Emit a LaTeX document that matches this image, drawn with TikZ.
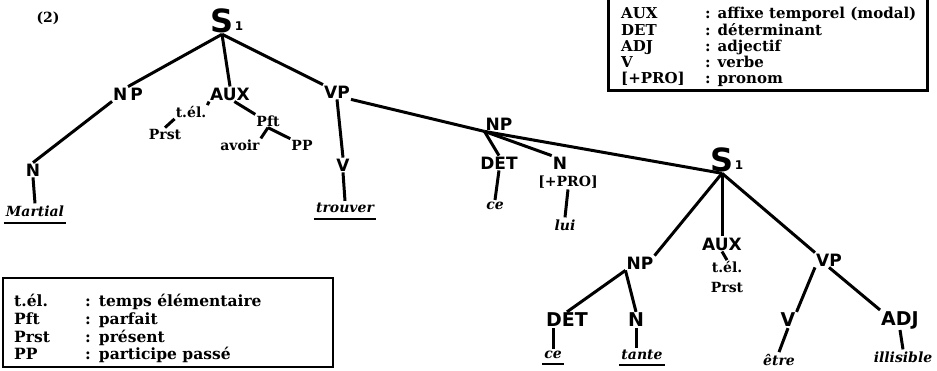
\documentclass[tikz,border=0pt]{standalone}
\usepackage{fontspec}
\newfontfamily\catfont{DejaVu Sans}
\newfontfamily\tagfont{DejaVu Serif}

\tikzset{
  cat/.style={font=\catfont\bfseries\fontsize{17}{17}\selectfont, inner sep=1pt},
  bigcat/.style={font=\catfont\bfseries\fontsize{19}{19}\selectfont, inner sep=1pt},
  sym/.style={font=\catfont\bfseries\fontsize{32}{32}\selectfont, inner sep=1pt},
  sub/.style={font=\catfont\bfseries\fontsize{12}{12}\selectfont, inner sep=0pt},
  tag/.style={font=\tagfont\bfseries\fontsize{14}{14}\selectfont, inner sep=1pt},
  word/.style={font=\tagfont\bfseries\itshape\fontsize{14}{14}\selectfont, inner sep=2pt},
  branch/.style={line width=3pt},
  ul/.style={line width=2pt},
  keys/.style={font=\tagfont\bfseries\fontsize{15}{15.5}\selectfont, inner sep=0pt, anchor=north west},
}

\begin{document}
\begin{tikzpicture}[x=1pt,y=-1pt]
    \useasboundingbox (0,0) rectangle (937,370);

    % legend boxes
    \draw[line width=3pt] (608,-10) rectangle (927,90);
    \node[keys] (legtop) at (621,7) {\begin{tabular}{@{}p{84pt}@{}l@{}}
        AUX & :\hspace{7pt}affixe temporel (modal)\\
        DET & :\hspace{7pt}déterminant\\
        ADJ & :\hspace{7pt}adjectif\\
        V & :\hspace{7pt}verbe\\
        {[+PRO]} & :\hspace{7pt}pronom
    \end{tabular}};
    \draw[line width=2.5pt] (3,278) rectangle (333,367);
    \node[keys, font=\tagfont\bfseries\fontsize{15.5}{17.7}\selectfont] (legbot) at (14,294) {\begin{tabular}{@{}p{71pt}@{}l@{}}
        t.él. & :\hspace{8pt}temps élémentaire\\
        Pft & :\hspace{8pt}parfait\\
        Prst & :\hspace{8pt}présent\\
        PP & :\hspace{8pt}participe passé
    \end{tabular}};

    \node[tag] (num) at (48,18) {(2)};

    % main clause
    \node[sym] (s1) at (222,21) {S};
    \node[sub, anchor=west] (s1i) at ([yshift=-5pt]s1.east) {1};
    \node[cat] (np1) at (128,94) {N\,P};
    \node[cat] (aux1) at (230,94) {AUX};
    \node[cat] (vp1) at (337,92) {VP};
    \node[cat] (n1) at (33,170) {N};
    \node[word] (martial) at (35,211) {Martial};
    \node[tag] (tel1) at (191,112) {t.él.};
    \node[tag] (prst1) at (165,134) {Prst};
    \node[tag] (pft) at (268,121) {Pft};
    \node[tag] (avoir) at (240,145) {avoir};
    \node[tag] (pp) at (302,145) {PP};
    \node[cat] (v1) at (343,165) {V};
    \node[word] (trouver) at (345,208) {trouver};

    \draw[branch] (s1.south) -- (np1.north);
    \draw[branch] (s1.south) -- (aux1.north);
    \draw[branch] (s1.south) -- (vp1.north west);
    \draw[branch] (np1.south west) -- (n1.north);
    \draw[branch] (n1.south) -- (martial.north);
    \draw[branch] (aux1.south west) -- (tel1.north east);
    \draw[branch] (tel1.south west) -- (prst1.north);
    \draw[branch] (aux1.-60) -- (pft.north west);
    \draw[branch] (pft.south) -- (avoir.north east);
    \draw[branch] (pft.south) -- (pp.north west);
    \draw[branch] (vp1.south) -- (v1.north);
    \draw[branch] (v1.south) -- (trouver.north);
    \draw[ul] ([yshift=-4pt]martial.south west) -- ([yshift=-4pt]martial.south east);
    \draw[ul] ([yshift=-4pt]trouver.south west) -- ([yshift=-4pt]trouver.south east);

    % object NP
    \node[cat] (np2) at (499,124) {NP};
    \node[cat] (det2) at (499,163) {DET};
    \node[cat] (n2) at (560,163) {N};
    \node[tag] (pro) at (568,182) {[+PRO]};
    \node[word] (ce1) at (495,206) {ce};
    \node[word] (lui) at (565,225) {lui};

    \draw[branch] (vp1.south east) -- (np2.south west);
    \draw[branch] (np2.south west) -- (det2.north);
    \draw[branch] (np2.south west) -- (n2.north west);
    \draw[branch] (det2.south) -- (ce1.north);
    \draw[branch] (pro.south) -- (lui.north);

    % embedded clause
    \node[sym] (s1b) at (722,160) {S};
    \node[sub, anchor=west] (s1bi) at ([yshift=-5pt]s1b.east) {1};
    \node[cat] (np3) at (640,263) {NP};
    \node[cat] (aux2) at (722,244) {AUX};
    \node[tag] (tel2) at (727,267) {t.él.};
    \node[tag] (prst2) at (727,287) {Prst};
    \node[cat] (vp2) at (829,260) {VP};
    \node[bigcat] (det3) at (567,320) {DET};
    \node[bigcat] (n3) at (636,320) {N};
    \node[bigcat] (v3) at (788,320) {V};
    \node[bigcat] (adj) at (900,320) {ADJ};
    \node[word] (ce2) at (553,355) {ce};
    \node[word] (tante) at (642,355) {tante};
    \node[word] (etre) at (779,360) {être};
    \node[word] (illis) at (903,357) {illisible};

    \draw[branch] (np2.south west) -- (s1b.south);
    \draw[branch] (s1b.south) -- (np3.north east);
    \draw[branch] (s1b.south) -- (aux2.north);
    \draw[branch] (s1b.south) -- (vp2.north west);
    \draw[branch] (aux2.south) -- (tel2.north);
    \draw[branch] (np3.south west) -- (det3.north);
    \draw[branch] (np3.south west) -- (n3.north);
    \draw[branch] (ce2.north |- det3.south) -- (ce2.north);
    \draw[branch] (n3.south) -- (n3.south |- tante.north);
    \draw[branch] (vp2.south west) -- (v3.north east);
    \draw[branch] (vp2.south) -- (adj.north west);
    \draw[branch] (v3.south) -- (etre.north);
    \draw[branch] (adj.south) -- (illis.north);
    \draw[ul] ([yshift=-3pt]ce2.south west) -- ([yshift=-3pt]ce2.south east);
    \draw[ul] ([yshift=-3pt]tante.south west) -- ([yshift=-3pt]tante.south east);
\end{tikzpicture}
\end{document}
